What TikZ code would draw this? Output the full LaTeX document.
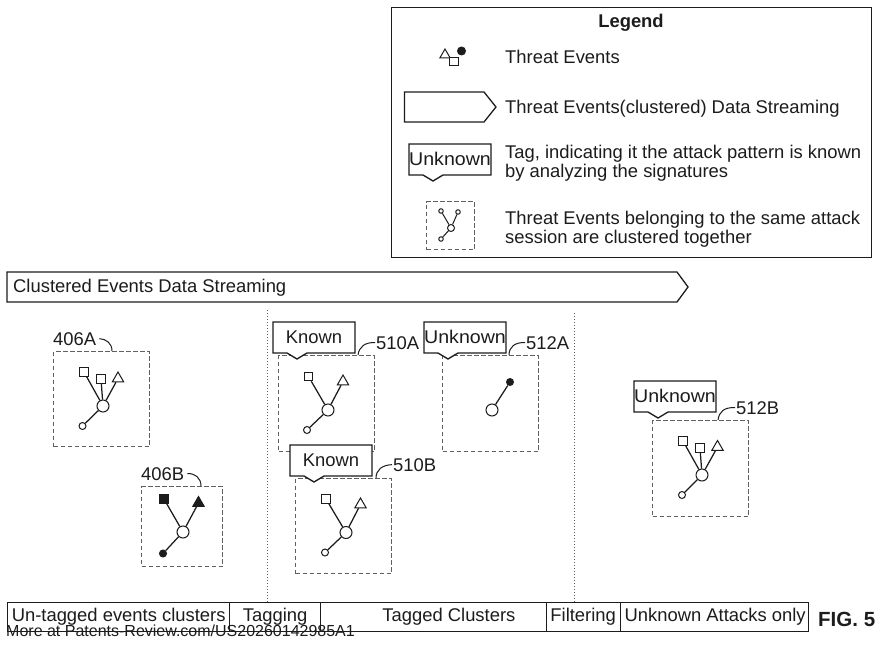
\documentclass[tikz,border=0pt]{standalone}
\usepackage{fontspec}
\setmainfont{Liberation Sans}
\newfontfamily\widefont[FakeStretch=1.065]{Liberation Sans}
\usetikzlibrary{shapes.geometric}
\definecolor{ink}{HTML}{1C1C1C}
\tikzset{
  every node/.style={text=ink,font=\fontsize{18.4}{19}\selectfont},
  txt/.style={anchor=base west,inner sep=0pt},
  frame/.style={draw=ink,line width=1.3pt},
  cluster/.style={draw=ink!70,line width=1pt,dash pattern=on 4.5pt off 2.5pt,fill=white},
  link/.style={draw=ink,line width=1.25pt},
  leader/.style={draw=ink,line width=1pt},
  divider/.style={draw=ink!70,line width=1pt,dash pattern=on 1.2pt off 1.8pt},
  hub/.style={circle,draw=ink,line width=1pt,fill=white,minimum size=12pt,inner sep=0pt},
  tip/.style={circle,draw=ink,line width=1pt,fill=white,minimum size=7pt,inner sep=0pt},
  sq/.style={rectangle,draw=ink,line width=1pt,fill=white,minimum size=8.5pt,inner sep=0pt},
  tri/.style={regular polygon,regular polygon sides=3,draw=ink,line width=1pt,fill=white,minimum size=13pt,inner sep=0pt},
  solid fill/.style={fill=ink},
  cell/.style={frame,minimum height=29pt,inner sep=0pt,anchor=north west},
}
\newcommand{\tagshape}[4]{%
  \draw[frame,fill=white] (#1,#2) -- ++(82,0) -- ++(0,31) -- ++(-48,0) -- ++(-10,6) -- ++(-10,-6) -- ++(-14,0) -- cycle;
  \node[anchor=center,inner sep=0pt] (#3) at (#1+41,#2+15) {#4};}
\newcommand{\stream}[5]{%
  \draw[frame,fill=white] (#1,#3) -- (#5,#3) -- (#2,{(#3+#4)/2}) -- (#5,#4) -- (#1,#4) -- cycle;}
\newcommand{\up}[1]{\raisebox{1.5pt}{#1}}
\begin{document}
\begin{tikzpicture}[x=1pt,y=-1pt]
\useasboundingbox[fill=white] (0,0) rectangle (880,647);
% Legend
\node[frame,rectangle,minimum width=480pt,minimum height=250pt,anchor=north west,inner sep=0pt] (legend) at (391,7) {};
\node[anchor=base,inner sep=0pt,font=\fontsize{18.4}{19}\selectfont\bfseries] (legendtitle) at (631,28) {Legend};
\node[tri,minimum size=12pt] (ltri) at (445,55) {};
\node[sq] (lsq) at (454,61.5) {};
\node[circle,fill=ink,minimum size=9pt,inner sep=0pt] (lcirc) at (461.5,51) {};
\node[txt] (lt1) at (505,64) {Threat Events};
\stream{404.5}{496}{92}{122}{484}
\node[txt] (lt2) at (505,113.5) {Threat Events(clustered) Data Streaming};
\tagshape{409}{144}{ltag}{\widefont Unknown}
\node[txt] (lt3a) at (505,158.5) {Tag, indicating it the attack pattern is known};
\node[txt] (lt3b) at (505,177.5) {by analyzing the signatures};
\node[cluster,rectangle,minimum width=48pt,minimum height=48pt,anchor=north west,inner sep=0pt] (lbox) at (426,201) {};
\node[hub,minimum size=7pt] (lh) at (451,228) {};
\node[tip,minimum size=4.5pt] (la) at (441,211) {};
\node[tip,minimum size=4.5pt] (lb) at (458,212) {};
\node[tip,minimum size=4.5pt] (lc) at (441,239) {};
\draw[link,line width=1pt] (lh) -- (la);
\draw[link,line width=1pt] (lh) -- (lb);
\draw[link,line width=1pt] (lh) -- (lc);
\node[txt] (lt4a) at (505,224) {Threat Events belonging to the same attack};
\node[txt] (lt4b) at (505,243) {session are clustered together};
% Main stream
\stream{7}{688}{272}{302}{677}
\node[txt] (main) at (13,292) {Clustered Events Data Streaming};
% Dividers
\coordinate (d1t) at (267,310); \coordinate (d1b) at (267,602);
\coordinate (d2t) at (574,313); \coordinate (d2b) at (574,602);
\draw[divider] (d1t) -- (d1b);
\draw[divider] (d2t) -- (d2b);
% 406A
\node[cluster,rectangle,minimum width=96pt,minimum height=95pt,anchor=north west,inner sep=0pt] (a) at (53,351) {};
\node[hub] (ah) at (103,406) {};
\node[sq] (a1) at (84,372) {};
\node[sq] (a2) at (101,379) {};
\node[tri] (a3) at (118,378.5) {};
\node[tip] (a4) at (82.5,426) {};
\draw[link] (ah) -- (a1); \draw[link] (ah) -- (a2); \draw[link] (ah) -- (a3); \draw[link] (ah) -- (a4);
\node[txt] (al) at (53,345) {406A};
\coordinate (alb) at (112,351);
\draw[leader] (al.east)++(3,0) coordinate (ale) .. controls (106,339) and (112,343) .. (alb);
% 406B
\node[cluster,rectangle,minimum width=81pt,minimum height=80pt,anchor=north west,inner sep=0pt] (b) at (141,486) {};
\node[hub] (bh) at (183,532) {};
\node[sq,solid fill] (b1) at (164,499) {};
\node[tri,solid fill] (b2) at (198.5,503) {};
\node[tip,solid fill] (b3) at (163,553.5) {};
\draw[link] (bh) -- (b1); \draw[link] (bh) -- (b2); \draw[link] (bh) -- (b3);
\node[txt] (bl) at (141,480) {406B};
\coordinate (blb) at (201,486);
\draw[leader] (bl.east)++(3,0) coordinate (ble) .. controls (195,473) and (201,478) .. (blb);
% 510A
\node[cluster,rectangle,minimum width=96pt,minimum height=96pt,anchor=north west,inner sep=0pt] (c) at (278,355) {};
\node[hub] (ch) at (328,410) {};
\node[sq] (c1) at (308.5,376.5) {};
\node[tri] (c2) at (343,381.5) {};
\node[tip] (c3) at (307,430) {};
\draw[link] (ch) -- (c1); \draw[link] (ch) -- (c2); \draw[link] (ch) -- (c3);
\tagshape{273}{322}{ct}{Known}
\node[txt] (cl) at (376,349) {510A};
\coordinate (clb) at (358,355);
\draw[leader] (cl.west)++(-1,0) coordinate (cle) .. controls (365,342) and (359,347) .. (clb);
% 510B
\node[cluster,rectangle,minimum width=96pt,minimum height=95pt,anchor=north west,inner sep=0pt] (d) at (295,478) {};
\node[hub] (dh) at (346,532.5) {};
\node[sq] (d1) at (326,499) {};
\node[tri] (d2) at (360.5,504.5) {};
\node[tip] (d3) at (325,552.5) {};
\draw[link] (dh) -- (d1); \draw[link] (dh) -- (d2); \draw[link] (dh) -- (d3);
\tagshape{290}{445}{dt}{Known}
\node[txt] (dl) at (393,471) {510B};
\coordinate (dlb) at (376,478);
\draw[leader] (dl.west)++(-1,0) coordinate (dle) .. controls (382,465) and (376,470) .. (dlb);
% 512A
\node[cluster,rectangle,minimum width=96pt,minimum height=96pt,anchor=north west,inner sep=0pt] (e) at (442,355) {};
\node[hub] (eh) at (492,410) {};
\node[circle,fill=ink,minimum size=8pt,inner sep=0pt] (e1) at (510,382) {};
\draw[link] (eh) -- (e1);
\tagshape{424}{322}{et}{\widefont Unknown}
\node[txt] (el) at (526,349) {512A};
\coordinate (elb) at (509,355);
\draw[leader] (el.west)++(-1,0) coordinate (ele) .. controls (515,342) and (509,347) .. (elb);
% 512B
\node[cluster,rectangle,minimum width=96pt,minimum height=96pt,anchor=north west,inner sep=0pt] (f) at (652,420) {};
\node[hub] (fh) at (702,475) {};
\node[sq] (f1) at (683,441) {};
\node[sq] (f2) at (700,448) {};
\node[tri] (f3) at (717.5,447) {};
\node[tip] (f4) at (682,495) {};
\draw[link] (fh) -- (f1); \draw[link] (fh) -- (f2); \draw[link] (fh) -- (f3); \draw[link] (fh) -- (f4);
\tagshape{634}{381}{ft}{\widefont Unknown}
\node[txt] (fl) at (736,414) {512B};
\coordinate (flb) at (718,420);
\draw[leader] (fl.west)++(-1,0) coordinate (fle) .. controls (724,407) and (719,412) .. (flb);
% Phase bar
\node[cell,minimum width=222pt] (p1) at (7,602) {\up{Un-tagged events clusters}};
\node[cell,minimum width=91pt] (p2) at (229,602) {\up{Tagging}};
\node[cell,minimum width=225.5pt] (p3) at (320,602) {\hspace*{31pt}\up{Tagged Clusters}};
\node[cell,minimum width=74pt] (p4) at (545.5,602) {\up{Filtering}};
\node[cell,minimum width=188pt] (p5) at (619.5,602) {\hspace*{2pt}\up{Unknown Attacks only}};
\node[txt,font=\fontsize{20.5}{21}\selectfont\bfseries] (fig) at (818,626) {FIG. 5};
\node[txt,font=\fontsize{16}{17}\selectfont] (wm) at (6,636) {More at Patents-Review.com/US20260142985A1};
\end{tikzpicture}
\end{document}
